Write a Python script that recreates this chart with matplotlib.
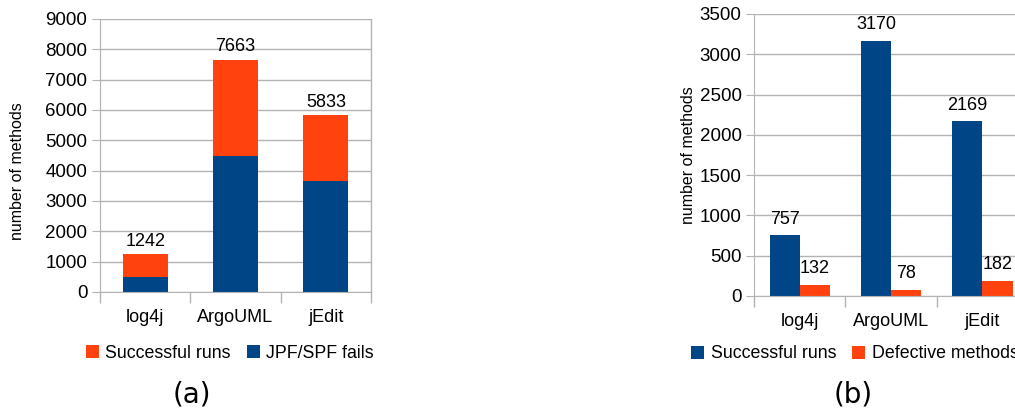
import numpy as np
import matplotlib.pyplot as plt

plt.rcParams['font.family'] = ['Liberation Sans', 'DejaVu Sans']

# data
projects = ["log4j", "ArgoUML", "jEdit"]
totals_a = [1242, 7663, 5833]
fails_a = [485, 4493, 3664]          # JPF/SPF fails (bottom, blue)
success_a = [757, 3170, 2169]        # Successful runs (top, red)
success_b = [757, 3170, 2169]
defective_b = [132, 78, 182]

blue = "#004586"
red = "#ff420e"
grid_c = "#b3b3b3"

fig = plt.figure(figsize=(10.15, 4.12), dpi=100)


def style_axes(ax, ymax, ystep):
    x = np.arange(len(projects))
    ax.set_xlim(-0.5, len(projects) - 0.5)
    ax.set_ylim(0, ymax)
    ax.set_yticks(np.arange(0, ymax + 1, ystep))
    ax.yaxis.grid(True, color=grid_c, linewidth=1)
    ax.set_axisbelow(True)
    ax.set_xticks(x)
    ax.set_xticklabels(projects, fontsize=13)
    ax.set_xticks(np.arange(-0.5, len(projects)), minor=True)
    ax.tick_params(axis='x', which='major', length=0, pad=12)
    ax.tick_params(axis='x', which='minor', length=8, color=grid_c, width=1)
    ax.tick_params(axis='y', length=6, color=grid_c, labelsize=13.5, pad=3)
    for s in ["top", "right"]:
        ax.spines[s].set_visible(False)
    for s in ["left", "bottom"]:
        ax.spines[s].set_color(grid_c)
    ax.set_ylabel("number of methods", fontsize=11.5)
    return x


# (a) stacked bars
ax1 = fig.add_axes([0.0985, 0.2913, 0.267, 0.6626])
x = style_axes(ax1, 9000, 1000)
ax1.yaxis.set_label_coords(-0.275, 0.443)
ax1.axvline(2.5, color=grid_c, linewidth=1, clip_on=False)
ax1.bar(x, fails_a, 0.5, color=blue, label="JPF/SPF fails")
ax1.bar(x, success_a, 0.5, bottom=fails_a, color=red, label="Successful runs")
for xi, t in zip(x, totals_a):
    ax1.text(xi, t + 150, str(t), ha='center', va='bottom', fontsize=13)
h, l = ax1.get_legend_handles_labels()
fig.legend(h[::-1], l[::-1], loc='center', bbox_to_anchor=(230 / 1015, 1 - 353 / 412),
           ncol=2, frameon=False, fontsize=12.8, handlelength=0.75, handleheight=0.75,
           handletextpad=0.35, columnspacing=0.9)

# (b) grouped bars
ax2 = fig.add_axes([0.7429, 0.2816, 0.27, 0.6845])
x = style_axes(ax2, 3500, 500)
ax2.yaxis.set_label_coords(-0.21, 0.5)
w = 0.33
ax2.bar(x - w / 2, success_b, w, color=blue, label="Successful runs")
ax2.bar(x + w / 2, defective_b, w, color=red, label="Defective methods")
for xi, v in zip(x, success_b):
    ax2.text(xi - w / 2, v + 90, str(v), ha='center', va='bottom', fontsize=13)
for xi, v in zip(x, defective_b):
    ax2.text(xi + w / 2, v + 100, str(v), ha='center', va='bottom', fontsize=13)
fig.legend(*ax2.get_legend_handles_labels(), loc='center left',
           bbox_to_anchor=(675 / 1015, 1 - 354 / 412), ncol=2, frameon=False,
           fontsize=12.8, handlelength=0.75, handleheight=0.75,
           handletextpad=0.35, columnspacing=0.9)

fig.text(192 / 1015, 1 - 395 / 412, "(a)", ha='center', va='center',
         fontsize=20, family='DejaVu Sans')
fig.text(853 / 1015, 1 - 395 / 412, "(b)", ha='center', va='center',
         fontsize=20, family='DejaVu Sans')

fig.savefig("out.png", dpi=100)
